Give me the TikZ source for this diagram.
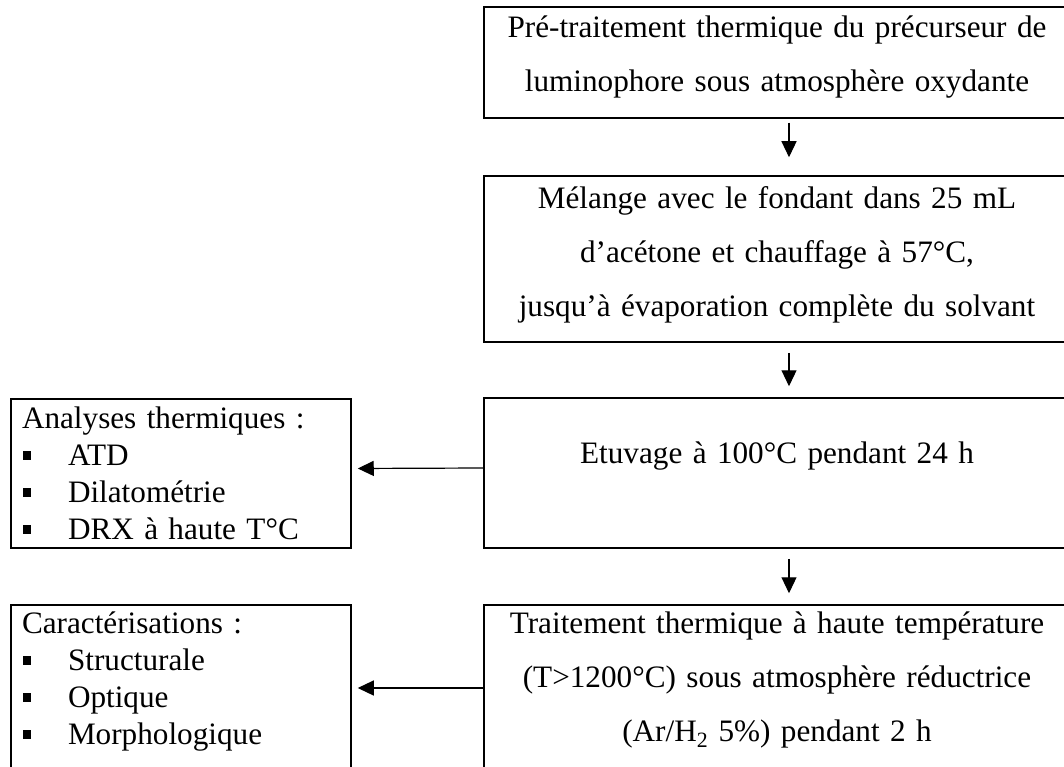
\documentclass[tikz,border=0pt]{standalone}
\usepackage{fontspec}
\setmainfont{Liberation Serif}
\usepackage{tikz}
\usetikzlibrary{arrows.meta,positioning}

\newcommand{\puce}{\makebox[46pt][l]{\hspace{1pt}\raisebox{6pt}{\rule{8pt}{9pt}}}}

\begin{document}
\begin{tikzpicture}[x=1pt,y=-1pt,>={Triangle[length=16pt,width=15pt]},
etape/.style={draw,line width=1.5pt,minimum width=586pt,text width=560pt,align=center,inner sep=0pt,font=\fontsize{31.2}{54}\selectfont},
analyse/.style={draw,line width=1.5pt,minimum width=340pt,text width=318pt,align=left,inner xsep=11pt,inner ysep=0pt,font=\fontsize{31.2}{37}\selectfont},
fleche/.style={->,line width=1.2pt}]
\useasboundingbox (0,0) rectangle (1064,767);
% etapes du protocole
\node[etape,minimum height=111pt,text depth=72pt] (pre) at (777,62.5) {Pré-traitement thermique du précurseur de\\luminophore sous atmosphère oxydante};
\node[etape,minimum height=166pt,text depth=122pt] (mel) at (777,259) {Mélange avec le fondant dans 25 mL\\d'acétone et chauffage à 57°C,\\jusqu'à évaporation complète du solvant};
\node[etape,minimum height=150pt,text depth=41pt] (etuv) at (777,473) {Etuvage à 100°C pendant 24 h};
\node[etape,minimum height=166pt,text depth=130pt] (trait) at (777,688) {Traitement thermique à haute température\\(T>1200°C) sous atmosphère réductrice\\(Ar/H\textsubscript{2} 5\%) pendant 2 h};
% analyses
\node[analyse,minimum height=149pt] (anal) at (181,473.5) {Analyses thermiques :\\\puce ATD\\\puce Dilatométrie\\\puce DRX à haute T°C};
\node[analyse,minimum height=166pt,text depth=130pt] (carac) at (181,688) {Caractérisations :\\\puce Structurale\\\puce Optique\\\puce Morphologique};
% fleches
\draw[fleche,shorten <=4pt,shorten >=18pt] ([xshift=12pt]pre.south) -- ([xshift=12pt]mel.north);
\draw[fleche,shorten <=10pt,shorten >=11pt] ([xshift=12pt]mel.south) -- ([xshift=12pt]etuv.north);
\draw[fleche,shorten <=10pt,shorten >=11pt] ([xshift=12pt]etuv.south) -- ([xshift=12pt]trait.north);
\draw[fleche,shorten >=6pt] ([yshift=5pt]etuv.west) -- ([yshift=5pt]anal.east);
\draw[fleche,shorten >=6pt] (trait.west) -- (carac.east);
\end{tikzpicture}
\end{document}
